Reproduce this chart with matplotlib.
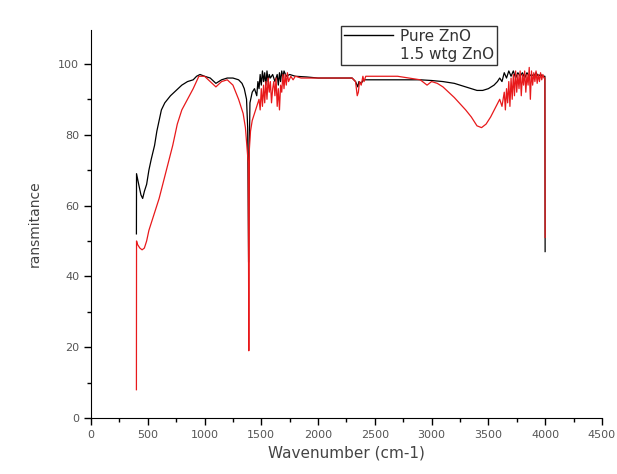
import matplotlib
matplotlib.use("Agg")
import matplotlib.pyplot as plt
from matplotlib.lines import Line2D

# Pure ZnO (black)
pure_x = [400, 401, 420, 440, 455, 470, 490, 510, 530, 560, 580, 600, 620, 650, 700, 750,
          800, 850, 900, 930, 960, 1000, 1050, 1100, 1150, 1200, 1250, 1300, 1330, 1350,
          1370, 1380, 1388, 1395, 1400, 1420, 1440, 1460, 1470, 1480, 1490, 1500, 1510,
          1520, 1530, 1540, 1550, 1560, 1570, 1580, 1600, 1620, 1640, 1650, 1660, 1670,
          1680, 1690, 1700, 1720, 1750, 1800, 1900, 2000, 2100, 2200, 2300, 2330, 2350,
          2360, 2380, 2400, 2500, 2700, 2900, 3000, 3100, 3200, 3300, 3400, 3450, 3500,
          3550, 3580, 3600, 3620, 3640, 3660, 3680, 3700, 3720, 3740, 3760, 3780, 3800,
          3820, 3840, 3860, 3880, 3900, 3920, 3940, 3960, 3980, 3998, 4000]
pure_y = [52, 69, 66, 63, 62, 64, 66, 70, 73, 77, 81, 84, 87, 89, 91, 92.5,
          94, 95, 95.5, 96.5, 97, 96.5, 96, 94.5, 95.5, 96, 96, 95.5, 94.5, 93,
          90, 82, 44, 78, 89, 92, 93, 91, 95, 93, 97, 94, 98,
          95, 97.5, 94, 98, 95, 97, 96, 97, 95, 97, 94, 97.5, 95,
          98, 96, 98, 96.5, 97, 96.5, 96.3, 96, 96, 96, 96, 95, 93.5,
          95, 94.5, 95.5, 95.5, 95.5, 95.5, 95.3, 95, 94.5, 93.5, 92.5, 92.5, 93,
          94, 95, 96, 95, 97.5, 96, 98, 96.5, 98, 96, 97.5, 96.5, 97.5,
          96, 97.5, 96.5, 97, 96.5, 97.5, 96.5, 97, 96.5, 96.5, 47]

# 1.5 wtg ZnO (red)
doped_x = [400, 401, 410, 430, 450, 470, 490, 510, 540, 570, 600, 640, 680, 720, 760,
           800, 850, 900, 950, 1000, 1050, 1100, 1150, 1200, 1250, 1300, 1340, 1360,
           1375, 1385, 1390, 1395, 1405, 1420, 1440, 1460, 1480, 1490, 1500, 1510, 1520,
           1530, 1540, 1550, 1560, 1570, 1580, 1590, 1600, 1610, 1620, 1630, 1640, 1650,
           1660, 1670, 1680, 1690, 1700, 1710, 1720, 1730, 1740, 1760, 1780, 1800, 1850,
           1900, 2000, 2100, 2200, 2300, 2330, 2345, 2355, 2365, 2380, 2395, 2405, 2420,
           2500, 2700, 2800, 2900, 2940, 2960, 3000, 3050, 3100, 3200, 3300, 3350, 3400,
           3440, 3480, 3520, 3560, 3600, 3620, 3640, 3650, 3660, 3670, 3680, 3690, 3700,
           3710, 3720, 3730, 3740, 3750, 3760, 3770, 3780, 3790, 3800, 3810, 3820, 3830,
           3840, 3850, 3860, 3870, 3880, 3890, 3900, 3910, 3920, 3930, 3940, 3950, 3960,
           3970, 3980, 3990, 3998, 4000]
doped_y = [8, 50, 49, 48, 47.5, 48, 50, 53, 56, 59, 62, 67, 72, 77, 83,
           87, 90, 93, 96.5, 96.5, 95, 93.5, 95, 95.5, 94, 90, 86, 82,
           76, 72, 19, 76, 81, 84, 86, 88, 90, 87, 93, 88, 94,
           89, 95, 90, 96, 92, 95, 89, 93, 95, 91, 96, 88, 93,
           87, 94, 92, 97, 93, 97, 94, 97.5, 95, 96.5, 95.5, 96.5, 96,
           96, 96, 96, 96, 96, 95, 91, 92, 95, 94, 96.5, 95, 96.5,
           96.5, 96.5, 96, 95.5, 94.5, 94, 95, 94.5, 93.5, 90.5, 87, 85, 82.5,
           82, 83, 85, 87.5, 90, 88, 92, 87, 93, 89, 95, 88, 96,
           90, 97, 91, 98, 92, 97, 93, 98, 91, 97, 94, 98, 92,
           97, 94, 99, 90, 98, 94, 97.5, 95, 98, 94.5, 97, 95, 97.5,
           95.5, 97, 96, 96, 51]

fig = plt.figure(figsize=(6.17, 4.74), dpi=100)
ax = fig.add_axes([0.1475, 0.118, 0.828, 0.819])

ax.plot(doped_x, doped_y, color="#e8191b", lw=0.9)
ax.plot(pure_x, pure_y, color="black", lw=0.9, zorder=1.5)

ax.set_xlim(0, 4500)
ax.set_ylim(0, 109.6)
ax.set_xticks(range(0, 4501, 500))
ax.set_xticks(range(250, 4500, 500), minor=True)
ax.set_yticks(range(0, 101, 20))
ax.set_yticks(range(10, 101, 20), minor=True)
for s in ("top", "right"):
    ax.spines[s].set_visible(False)
ax.tick_params(axis="both", which="major", direction="out", length=5, width=1,
               labelsize=8, labelcolor="#555555")
ax.tick_params(axis="both", which="minor", direction="out", length=3, width=1)

ax.set_xlabel("Wavenumber (cm-1)", fontsize=11, color="#444444", labelpad=4)
ax.set_ylabel("ransmitance", fontsize=10, color="#444444", labelpad=12)

handles = [Line2D([], [], color="black", lw=1),
           Line2D([], [], color="none", lw=1)]
leg = fig.legend(handles, ["Pure ZnO", "1.5 wtg ZnO"], loc="upper left",
                 bbox_to_anchor=(333 / 617, 1 - 18 / 474), fontsize=11,
                 frameon=True, fancybox=False, edgecolor="black",
                 handlelength=3.2, borderpad=0.2, labelspacing=0.2,
                 handletextpad=0.5)
leg.get_frame().set_linewidth(1)
for t in leg.get_texts():
    t.set_color("#333333")

fig.savefig("out.png", dpi=100)
